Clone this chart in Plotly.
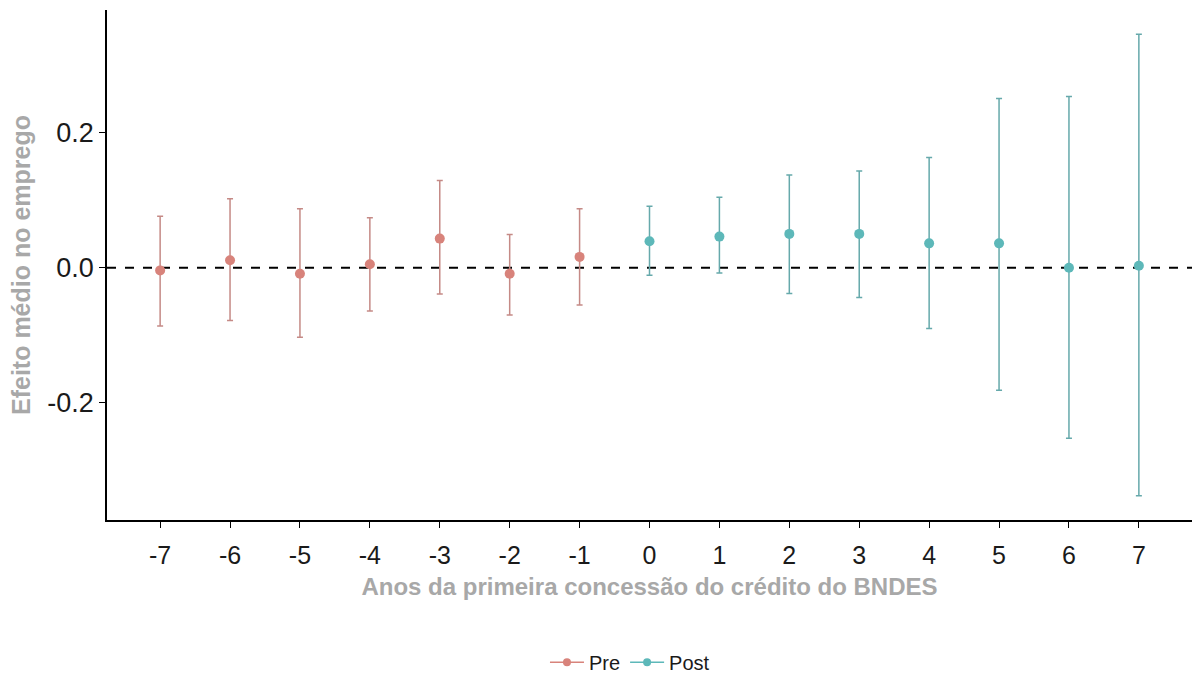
import plotly.graph_objects as go

# Event-study estimates: years relative to first BNDES credit
pre_years = [-7, -6, -5, -4, -3, -2, -1]
pre_est = [-0.004, 0.011, -0.009, 0.005, 0.043, -0.009, 0.016]
pre_low = [-0.086, -0.078, -0.103, -0.064, -0.039, -0.070, -0.055]
pre_high = [0.076, 0.102, 0.087, 0.074, 0.129, 0.049, 0.087]

post_years = [0, 1, 2, 3, 4, 5, 6, 7]
post_est = [0.039, 0.046, 0.050, 0.050, 0.036, 0.036, 0.000, 0.003]
post_low = [-0.011, -0.008, -0.038, -0.044, -0.090, -0.181, -0.252, -0.337]
post_high = [0.091, 0.104, 0.137, 0.143, 0.163, 0.250, 0.253, 0.345]

x_ticks = list(range(-7, 8))
y_ticks = [-0.2, 0.0, 0.2]

PRE_COLOR = "#D8837B"
POST_COLOR = "#5DB8B9"
PRE_BAR = "#C58A86"
POST_BAR = "#66A9AB"

fig = go.Figure()


def add_series(name, xs, est, low, high, color, bar_color):
    fig.add_trace(go.Scatter(
        x=xs, y=est, mode="markers", name=name, showlegend=False,
        marker=dict(color=color, size=10),
        error_y=dict(
            type="data", symmetric=False,
            array=[h - e for h, e in zip(high, est)],
            arrayminus=[e - l for e, l in zip(est, low)],
            color=bar_color, thickness=1.5, width=3,
        ),
    ))
    # legend key: line with a dot, like a pointrange key
    fig.add_trace(go.Scatter(
        x=[None], y=[None], mode="lines+markers", name=name,
        line=dict(color=color, width=1.5),
        marker=dict(color=color, size=8),
    ))


add_series("Pre", pre_years, pre_est, pre_low, pre_high, PRE_COLOR, PRE_BAR)
add_series("Post", post_years, post_est, post_low, post_high, POST_COLOR, POST_BAR)

# reference line at zero
fig.add_shape(type="line", xref="paper", yref="y", x0=0, x1=1, y0=0, y1=0,
              line=dict(color="black", width=2, dash="dash"), layer="below")

fig.update_layout(
    width=1192, height=682,
    margin=dict(l=107, r=0, t=10, b=160),
    paper_bgcolor="white", plot_bgcolor="white",
    font=dict(family="Liberation Sans, Arial, sans-serif", color="#1a1a1a"),
    legend=dict(
        orientation="h", x=0.482, xanchor="center", y=-0.279, yanchor="middle",
        font=dict(size=20, color="#1a1a1a"), itemwidth=34,
        bgcolor="rgba(0,0,0,0)",
    ),
    xaxis=dict(
        range=[-7.76, 7.76], tickmode="array", tickvals=x_ticks,
        ticktext=[str(v) for v in x_ticks],
        showline=True, linecolor="black", linewidth=1.5,
        ticks="outside", ticklen=6, tickcolor="black", tickwidth=1.2,
        ticklabelstandoff=6,
        showgrid=False, zeroline=False,
        tickfont=dict(size=25, color="#1a1a1a"),
        title=dict(text="<b>Anos da primeira concessão do crédito do BNDES</b>",
                   font=dict(size=24, color="#A8A8A8"), standoff=10),
    ),
    yaxis=dict(
        range=[-0.373, 0.381], tickmode="array", tickvals=y_ticks,
        ticktext=[f"{v:.1f}" for v in y_ticks],
        showline=True, linecolor="black", linewidth=1.5,
        ticks="outside", ticklen=6, tickcolor="black", tickwidth=1.2,
        showgrid=False, zeroline=False,
        tickfont=dict(size=27, color="#1a1a1a"),
        title=dict(text="<b>Efeito médio no emprego</b>",
                   font=dict(size=25, color="#A8A8A8"), standoff=10),
    ),
)

fig.write_html("out.html")
